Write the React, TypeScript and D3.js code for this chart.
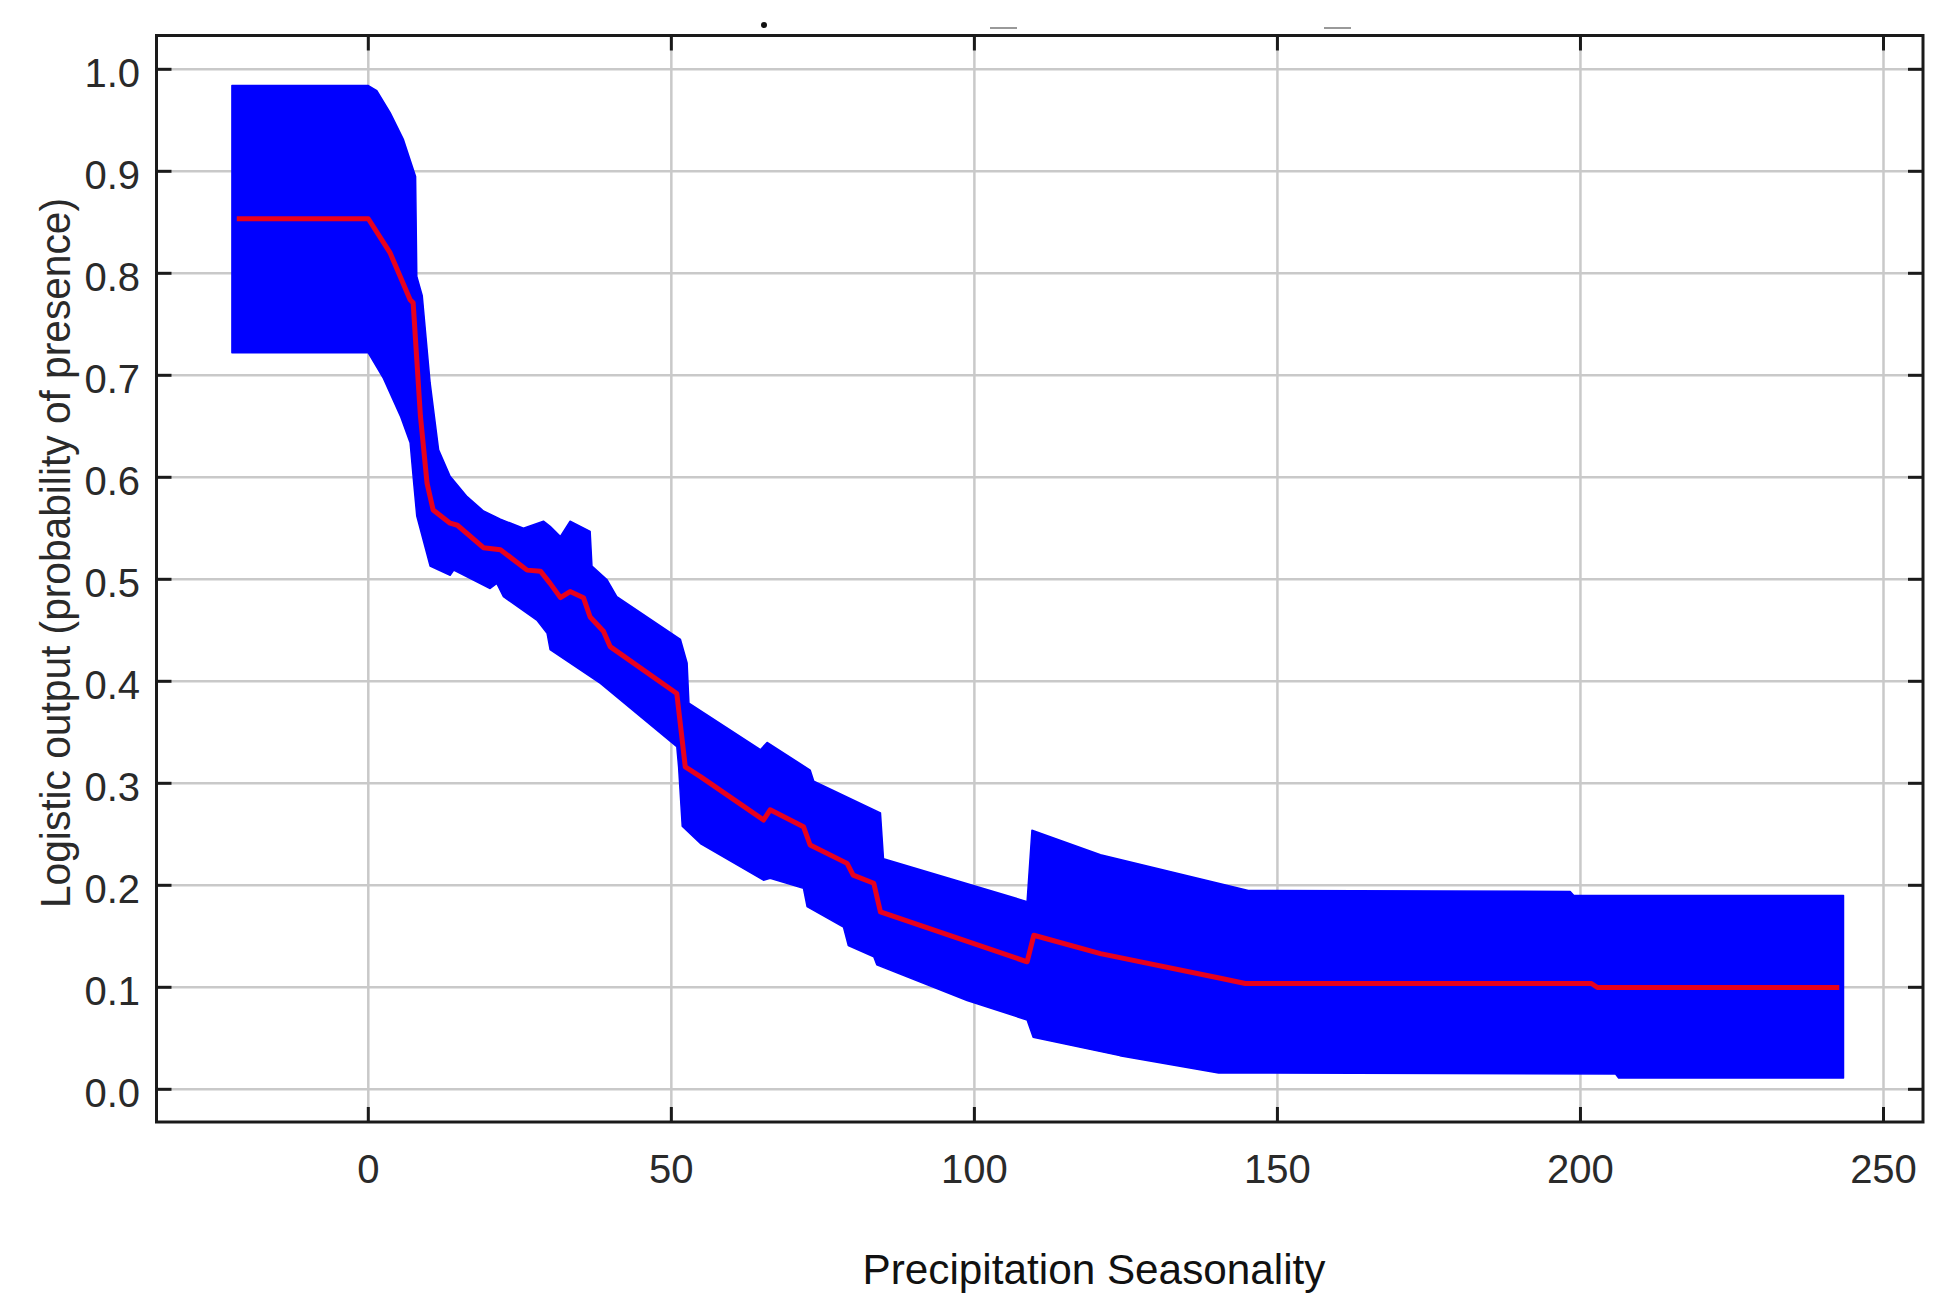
import React from "react";
import * as d3 from "d3";

// ---- data ----
const xTicks = [0, 50, 100, 150, 200, 250];
const yTicks = [0, 0.1, 0.2, 0.3, 0.4, 0.5, 0.6, 0.7, 0.8, 0.9, 1.0];

const upperX = [-22.5, 0, 1.4, 3.6, 5.8, 7.8, 8.0, 8.9, 10.2, 11.6, 13.5, 16.3, 19, 21.8, 25.6, 28.9, 30, 31.7, 33.3, 36.6, 36.9, 39.4, 41, 51.5, 52.6, 52.9, 64.7, 65.8, 72.9, 73.5, 84.5, 85, 108.7, 109.5, 120.8, 145.2, 198.3, 198.9, 243.4];
const upperY = [0.984, 0.984, 0.979, 0.9575, 0.931, 0.895, 0.797, 0.778, 0.6925, 0.627, 0.601, 0.581, 0.567, 0.559, 0.55, 0.557, 0.552, 0.542, 0.557, 0.547, 0.513, 0.4995, 0.483, 0.441, 0.418, 0.3785, 0.333, 0.34, 0.313, 0.302, 0.271, 0.226, 0.184, 0.254, 0.23, 0.195, 0.194, 0.19, 0.19];

const lowerX = [-22.5, 0, 2.5, 5.3, 6.9, 7.5, 8.0, 10.2, 13.5, 14.1, 20.1, 21.2, 22.3, 27.8, 29.5, 30, 38.3, 50.9, 51.2, 51.8, 54.8, 65.2, 66.3, 71.8, 72.4, 78.4, 79.2, 83.4, 83.9, 98.8, 108.7, 109.7, 124, 140.3, 205.8, 206.3, 243.4];
const lowerY = [0.722, 0.722, 0.697, 0.66, 0.634, 0.594, 0.562, 0.513, 0.504, 0.509, 0.491, 0.496, 0.483, 0.46, 0.447, 0.431, 0.398, 0.336, 0.316, 0.258, 0.241, 0.205, 0.207, 0.197, 0.179, 0.159, 0.141, 0.13, 0.122, 0.087, 0.068, 0.051, 0.033, 0.016, 0.015, 0.011, 0.011];

const meanX = [-21.7, 0, 3.6, 6.9, 7.4, 8.6, 9.7, 10.7, 13.5, 14.7, 19, 21.8, 26.2, 28.4, 30, 31.7, 33.3, 35.5, 36.6, 38.8, 39.9, 50.9, 52.3, 54.8, 65.2, 66.3, 71.8, 72.9, 79, 80, 83.4, 84.5, 108.7, 109.8, 120.8, 140.8, 144.7, 201.8, 202.8, 242.7];
const meanY = [0.8535, 0.8535, 0.82, 0.774, 0.771, 0.66, 0.594, 0.568, 0.555, 0.553, 0.531, 0.529, 0.509, 0.508, 0.496, 0.482, 0.488, 0.482, 0.463, 0.449, 0.434, 0.388, 0.316, 0.3065, 0.264, 0.274, 0.2575, 0.2395, 0.2215, 0.21, 0.202, 0.174, 0.125, 0.151, 0.133, 0.1086, 0.1037, 0.1037, 0.0998, 0.0998];

const xTitle = "Precipitation Seasonality";
const yTitle = "Logistic output (probability of presence)";

// ---- layout ----
const W = 1936;
const H = 1297;
const frame = { left: 156.5, right: 1923, top: 35.5, bottom: 1122 };
const FONT = "'Liberation Sans', Arial, Helvetica, sans-serif";

export default function App() {
  const x = d3.scaleLinear().domain([0, 250]).range([368.3, 1883.5]);
  const y = d3.scaleLinear().domain([0, 1]).range([1089.3, 69.3]);

  const upperPts: [number, number][] = upperX.map((v, i) => [v, upperY[i]]);
  const lowerPts: [number, number][] = lowerX.map((v, i) => [v, lowerY[i]]);
  const bandPts = [...upperPts, ...lowerPts.slice().reverse()];
  const meanPts: [number, number][] = meanX.map((v, i) => [v, meanY[i]]);

  const line = d3
    .line<[number, number]>()
    .x((d) => x(d[0]))
    .y((d) => y(d[1]));

  const bandPath = line(bandPts) + "Z";
  const meanPath = line(meanPts) || "";

  const tickLen = 15;

  return (
    <svg
      width={W}
      height={H}
      viewBox={`0 0 ${W} ${H}`}
      style={{ position: "absolute", left: 0, top: 0, background: "#fff" }}
    >
      <rect x={0} y={0} width={W} height={H} fill="#ffffff" />
      {/* grid */}
      <g stroke="#c9c9c9" strokeWidth={2.5}>
        {xTicks.map((t) => (
          <line key={"gx" + t} x1={x(t)} x2={x(t)} y1={frame.top} y2={frame.bottom} />
        ))}
        {yTicks.map((t) => (
          <line key={"gy" + t} x1={frame.left} x2={frame.right} y1={y(t)} y2={y(t)} />
        ))}
      </g>

      {/* band */}
      <path d={bandPath} fill="#0000ff" stroke="#0000ff" strokeWidth={1.5} strokeLinejoin="round" />

      {/* mean */}
      <path d={meanPath} fill="none" stroke="#e8001c" strokeWidth={5} strokeLinejoin="round" />

      {/* frame */}
      <rect
        x={frame.left}
        y={frame.top}
        width={frame.right - frame.left}
        height={frame.bottom - frame.top}
        fill="none"
        stroke="#1a1a1a"
        strokeWidth={3}
      />

      {/* ticks */}
      <g stroke="#1a1a1a" strokeWidth={3}>
        {xTicks.map((t) => (
          <g key={"tx" + t}>
            <line x1={x(t)} x2={x(t)} y1={frame.bottom} y2={frame.bottom - tickLen} />
            <line x1={x(t)} x2={x(t)} y1={frame.top} y2={frame.top + tickLen} />
          </g>
        ))}
        {yTicks.map((t) => (
          <g key={"ty" + t}>
            <line x1={frame.left} x2={frame.left + tickLen} y1={y(t)} y2={y(t)} />
            <line x1={frame.right} x2={frame.right - tickLen} y1={y(t)} y2={y(t)} />
          </g>
        ))}
      </g>

      {/* tick labels */}
      <g fontFamily={FONT} fontSize={40} fill="#2a2a2a">
        {xTicks.map((t) => (
          <text key={"lx" + t} x={x(t)} y={1183} textAnchor="middle">
            {d3.format("d")(t)}
          </text>
        ))}
        {yTicks.map((t) => (
          <text key={"ly" + t} x={140} y={y(t) + 18} textAnchor="end">
            {d3.format(".1f")(t)}
          </text>
        ))}
      </g>

      {/* axis titles */}
      <text
        x={1094}
        y={1284}
        textAnchor="middle"
        fontFamily={FONT}
        fontSize={42}
        fill="#111"
        textLength={463}
        lengthAdjust="spacingAndGlyphs"
      >
        {xTitle}
      </text>
      <text
        transform={`translate(70,553) rotate(-90)`}
        textAnchor="middle"
        fontFamily={FONT}
        fontSize={42}
        fill="#2a2a2a"
        textLength={710}
        lengthAdjust="spacingAndGlyphs"
      >
        {yTitle}
      </text>

      {/* remnants above the frame */}
      <circle cx={764} cy={25} r={3} fill="#111" />
      <line x1={990} x2={1017} y1={28} y2={28} stroke="#999" strokeWidth={2} />
      <line x1={1324} x2={1351} y1={28} y2={28} stroke="#999" strokeWidth={2} />
    </svg>
  );
}
